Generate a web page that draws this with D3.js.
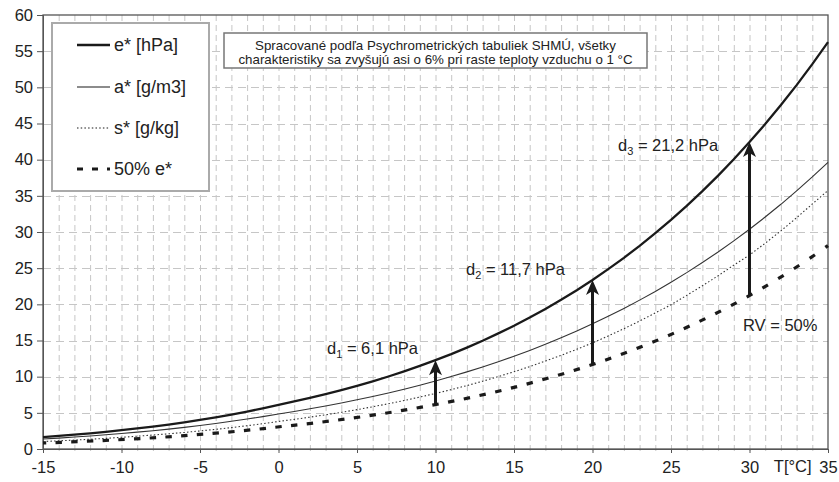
<!DOCTYPE html>
<html>
<head>
<meta charset="utf-8">
<script src="https://cdn.jsdelivr.net/npm/d3@7"></script>
<style>
  body { margin: 0; background: #fff; }
  svg { font-family: "Liberation Sans", Arial, sans-serif; }
  .grid line { stroke: #c6c6c6; stroke-width: 1; }
</style>
</head>
<body>
<div id="chart"></div>
<script>
"use strict";

// temperature categories [°C]
const temps = [-15,-14,-13,-12,-11,-10,-9,-8,-7,-6,-5,-4,-3,-2,-1,0,1,2,3,4,5,6,7,8,9,
  10,11,12,13,14,15,16,17,18,19,20,21,22,23,24,25,26,27,28,29,30,31,32,33,34,35]

// e* [hPa]
const eSat = [1.65,1.81,1.98,2.17,2.37,2.60,2.84,3.10,3.38,3.68,4.02,4.37,4.76,5.17,5.62,
  6.11,6.57,7.06,7.58,8.13,8.72,9.35,10.02,10.73,11.48,12.28,13.12,14.02,14.97,15.98,17.04,
  18.17,19.37,20.63,21.96,23.37,24.86,26.43,28.09,29.83,31.67,33.61,35.65,37.80,40.06,42.43,
  44.93,47.55,50.31,53.20,56.24]

// a* [g/m3]
const aSat = [1.39,1.51,1.65,1.80,1.96,2.14,2.33,2.53,2.75,2.99,3.25,3.52,3.83,4.14,4.48,
  4.85,5.19,5.56,5.95,6.36,6.80,7.26,7.75,8.27,8.82,9.40,10.01,10.66,11.35,12.07,12.83,
  13.63,14.48,15.37,16.31,17.30,18.34,19.43,20.58,21.78,23.05,24.38,25.78,27.24,28.78,30.38,
  32.07,33.83,35.68,37.61,39.63]

// s* [g/kg]
const sSat = [1.03,1.13,1.23,1.35,1.47,1.62,1.77,1.93,2.10,2.29,2.50,2.72,2.96,3.22,3.50,
  3.81,4.10,4.40,4.73,5.07,5.44,5.84,6.26,6.70,7.18,7.68,8.21,8.77,9.37,10.01,10.68,
  11.39,12.15,12.95,13.79,14.67,15.63,16.63,17.69,18.81,19.94,21.24,22.56,23.95,25.42,26.82,
  28.45,30.16,31.97,33.87,35.74]

// 50% e* [hPa]
const eHalf = [0.83,0.91,0.99,1.09,1.19,1.30,1.42,1.55,1.69,1.84,2.01,2.19,2.38,2.59,2.81,
  3.06,3.29,3.53,3.79,4.07,4.36,4.68,5.01,5.37,5.74,6.14,6.56,7.01,7.49,7.99,8.52,
  9.09,9.69,10.32,10.98,11.69,12.43,13.22,14.05,14.92,15.84,16.81,17.83,18.90,20.03,21.22,
  22.47,23.78,25.16,26.60,28.12]

// arrows d1..d3
const arrowTemps = [10, 20, 30]
const arrowFrom = [6.14, 11.69, 21.22]
const arrowTo = [12.28, 23.37, 42.43]
const arrowLabels = [["d","1"," = 6,1 hPa"], ["d","2"," = 11,7 hPa"], ["d","3"," = 21,2 hPa"]]
const arrowLabelPos = [[327, 348], [466, 269], [618, 145]]

const xTickLabels = [-15,-10,-5,0,5,10,15,20,25,30,35]
const yTickLabels = [0,5,10,15,20,25,30,35,40,45,50,55,60]

const legendNames = ["e* [hPa]", "a* [g/m3]", "s* [g/kg]", "50% e*"]
const noteLines = ["Spracované podľa Psychrometrických tabuliek SHMÚ, všetky",
  "charakteristiky sa zvyšujú asi o 6% pri raste teploty vzduchu o 1 °C"]

const W = 839, H = 482
const margins = {top: 15, right: 11, bottom: 33, left: 43}

const svg = d3.select("#chart").append("svg")
  .attr("width", W).attr("height", H)

const x = d3.scaleLinear().domain([-15, 35]).range([margins.left, W - margins.right])
const y = d3.scaleLinear().domain([0, 60]).range([H - margins.bottom, margins.top])

// grid
const grid = svg.append("g").attr("class", "grid")
grid.selectAll(".vg").data(temps.filter(t => t > -15 && t < 35))
  .enter().append("line")
  .attr("x1", d => x(d) + 0.5).attr("x2", d => x(d) + 0.5)
  .attr("y1", y(60)).attr("y2", y(0) + 4)
  .attr("stroke-dasharray", "6,4")
grid.selectAll(".hg").data(yTickLabels.filter(v => v > 0 && v < 60))
  .enter().append("line")
  .attr("x1", x(-15)).attr("x2", x(35))
  .attr("y1", d => Math.round(y(d)) + 0.5).attr("y2", d => Math.round(y(d)) + 0.5)
  .attr("stroke-dasharray", "8,5")

// frame
svg.append("rect")
  .attr("x", x(-15)).attr("y", y(60))
  .attr("width", x(35) - x(-15)).attr("height", y(0) - y(60))
  .attr("fill", "none").attr("stroke", "#555").attr("stroke-width", 1.3)

// axes
const yAxis = d3.axisLeft(y).tickValues(yTickLabels).tickSize(6).tickPadding(4)
svg.append("g").attr("transform", `translate(${x(-15)},0)`).call(yAxis)
  .call(g => g.select(".domain").attr("stroke", "#555"))
  .call(g => g.selectAll(".tick line").attr("stroke", "#555"))
  .call(g => g.selectAll("text").attr("font-size", 16.5).attr("fill", "#222")
    .attr("font-family", "Liberation Sans, Arial, sans-serif"))

const xAxis = d3.axisBottom(x).tickValues(xTickLabels).tickSize(4).tickPadding(8)
  .tickFormat(d => d3.format("")(d).replace("−", "-"))
svg.append("g").attr("transform", `translate(0,${y(0)})`).call(xAxis)
  .call(g => g.select(".domain").attr("stroke", "#555"))
  .call(g => g.selectAll(".tick line").attr("stroke", "#555"))
  .call(g => g.selectAll("text").attr("font-size", 16.5).attr("fill", "#222")
    .attr("font-family", "Liberation Sans, Arial, sans-serif"))

svg.append("text")
  .attr("x", (x(30) + x(35)) / 2 + 4).attr("y", y(0) + 23)
  .attr("text-anchor", "middle").attr("font-size", 16.5).attr("fill", "#222")
  .text("T[°C]")

// series
const line = d3.line().x(d => x(d[0])).y(d => y(d[1]))
const pts = vals => temps.map((t, i) => [t, vals[i]])

svg.append("path").attr("d", line(pts(sSat)))
  .attr("fill", "none").attr("stroke", "#333").attr("stroke-width", 1.1)
  .attr("stroke-dasharray", "1.5,2.2")
svg.append("path").attr("d", line(pts(aSat)))
  .attr("fill", "none").attr("stroke", "#333").attr("stroke-width", 1.1)
svg.append("path").attr("d", line(pts(eSat)))
  .attr("fill", "none").attr("stroke", "#1a1a1a").attr("stroke-width", 2.3)

// 50% e* : short thick dash at each data point, along the curve
const halfPts = pts(eHalf)
svg.append("g").selectAll("line").data(halfPts)
  .enter().append("line")
  .each(function(d, i) {
    const p0 = halfPts[Math.max(0, i - 1)], p1 = halfPts[Math.min(halfPts.length - 1, i + 1)]
    let dx = x(p1[0]) - x(p0[0]), dy = y(p1[1]) - y(p0[1])
    const len = Math.hypot(dx, dy)
    dx = dx / len * 3.2; dy = dy / len * 3.2
    const cx = x(d[0]), cy = y(d[1])
    d3.select(this).attr("x1", i == 0 ? cx : cx - dx).attr("y1", i == 0 ? cy : cy - dy)
      .attr("x2", i == halfPts.length - 1 ? cx : cx + dx).attr("y2", i == halfPts.length - 1 ? cy : cy + dy)
  })
  .attr("stroke", "#1a1a1a").attr("stroke-width", 3.2)

// arrows
const arrows = svg.append("g")
arrowTemps.forEach((t, i) => {
  const ax = x(t), y0 = y(arrowFrom[i]), y1 = y(arrowTo[i])
  arrows.append("line")
    .attr("x1", ax).attr("x2", ax).attr("y1", y0).attr("y2", y1 + 10)
    .attr("stroke", "#1a1a1a").attr("stroke-width", 3)
  arrows.append("path")
    .attr("d", `M${ax},${y1} L${ax - 6.5},${y1 + 15} L${ax},${y1 + 11} L${ax + 6.5},${y1 + 15} Z`)
    .attr("fill", "#1a1a1a")
  const lbl = svg.append("text")
    .attr("x", arrowLabelPos[i][0]).attr("y", arrowLabelPos[i][1] + 6)
    .attr("font-size", 16.5).attr("fill", "#222")
  lbl.append("tspan").text(arrowLabels[i][0])
  lbl.append("tspan").attr("font-size", 11).attr("dy", 4).text(arrowLabels[i][1])
  lbl.append("tspan").attr("dy", -4).text(arrowLabels[i][2])
})

svg.append("text")
  .attr("x", 743).attr("y", 331)
  .attr("font-size", 16.5).attr("fill", "#222")
  .text("RV = 50%")

// legend
const lg = svg.append("g")
lg.append("rect").attr("x", 52).attr("y", 23).attr("width", 157).attr("height", 168)
  .attr("fill", "#fff").attr("stroke", "#aaa").attr("stroke-width", 2)
const legendY = [45, 87, 128, 169]
const legendStyles = [
  {w: 2.3, dash: null},
  {w: 1.1, dash: null},
  {w: 1.1, dash: "1.5,2.2"},
  {w: 3.2, dash: "6,9"}
]
legendNames.forEach((name, i) => {
  lg.append("line").attr("x1", 77).attr("x2", 110)
    .attr("y1", legendY[i]).attr("y2", legendY[i])
    .attr("stroke", "#1a1a1a").attr("stroke-width", legendStyles[i].w)
    .attr("stroke-dasharray", legendStyles[i].dash)
  lg.append("text").attr("x", 114).attr("y", legendY[i] + 6)
    .attr("font-size", 18).attr("fill", "#222").text(name)
})

// note box
const nb = svg.append("g")
nb.append("rect").attr("x", 224).attr("y", 33).attr("width", 423).attr("height", 35)
  .attr("fill", "#fff").attr("stroke", "#777").attr("stroke-width", 1.5)
noteLines.forEach((t, i) => {
  nb.append("text").attr("x", 435.5).attr("y", 50 + i * 14)
    .attr("text-anchor", "middle").attr("font-size", 13.3).attr("fill", "#222").text(t)
})
</script>
</body>
</html>
